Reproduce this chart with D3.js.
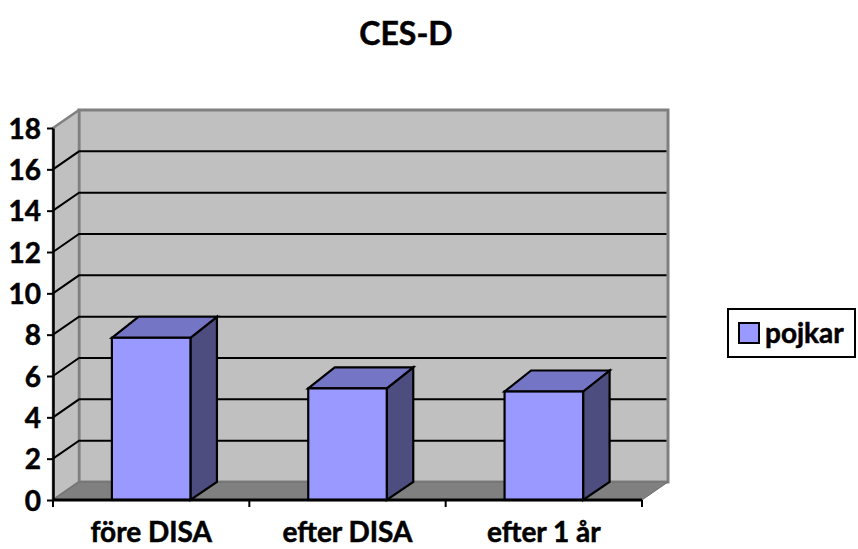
<!DOCTYPE html>
<html>
<head>
<meta charset="utf-8">
<script src="https://cdn.jsdelivr.net/npm/d3@7"></script>
<style>
  html, body { margin: 0; padding: 0; background: #fff; }
  svg { display: block; }
  text { font-family: Lato, "Open Sans", sans-serif; font-weight: bold; fill: #000;
         stroke: #000; stroke-width: 0.5px; }
</style>
</head>
<body>
<svg id="chart" width="858" height="549"></svg>
<script>
// Chart data
const categories = ["före DISA", "efter DISA", "efter 1 år"];
const seriesName = "pojkar";
const pojkar = [7.85, 5.4, 5.25];
const yTicks = [0, 2, 4, 6, 8, 10, 12, 14, 16, 18];
const chartTitle = "CES-D";

(function draw() {
  const svg = d3.select("#chart");

  // Plot frame: front plane plus a receding depth offset for the 3D walls
  const plotLeft = 53, plotRight = 642, plotBottom = 500, plotTop = 128;
  const depthX = 26, depthY = -18;

  const x = d3.scaleBand().domain(categories).range([plotLeft, plotRight])
    .paddingInner(0.6).paddingOuter(0.3);
  const y = d3.scaleLinear().domain([0, 18]).range([plotBottom, plotTop]);

  const wallFill = "#c0c0c0", wallEdge = "#808080", floorFill = "#808080";
  const line = d3.line();

  // Back wall
  svg.append("rect")
    .attr("x", plotLeft + depthX).attr("y", y(18) + depthY)
    .attr("width", plotRight - plotLeft).attr("height", y(0) - y(18))
    .attr("fill", wallFill).attr("stroke", wallEdge).attr("stroke-width", 3);

  // Side wall
  svg.append("path")
    .attr("d", line([[plotLeft, y(0)], [plotLeft + depthX, y(0) + depthY],
                     [plotLeft + depthX, y(18) + depthY], [plotLeft, y(18)]]) + "Z")
    .attr("fill", wallFill).attr("stroke", wallEdge).attr("stroke-width", 2.5)
    .attr("stroke-linejoin", "round");

  // Floor
  svg.append("path")
    .attr("d", line([[plotLeft, y(0)], [plotRight, y(0)],
                     [plotRight + depthX, y(0) + depthY], [plotLeft + depthX, y(0) + depthY]]) + "Z")
    .attr("fill", floorFill).attr("stroke", "#6e6e6e").attr("stroke-width", 1);

  // Gridlines across the side wall and back wall
  const grid = svg.append("g").attr("stroke", "#000").attr("stroke-width", 2).attr("fill", "none");
  yTicks.filter(t => t > 0 && t < 18).forEach(t => {
    grid.append("path").attr("d", line([
      [plotLeft, y(t)], [plotLeft + depthX, y(t) + depthY], [plotRight + depthX - 1.5, y(t) + depthY]
    ]));
  });

  // Bars (front, top and side faces)
  const barColors = { front: "#9999ff", top: "#7575c5", side: "#4d4d80" };
  const bars = svg.append("g").attr("stroke", "#000").attr("stroke-width", 2.2)
    .attr("stroke-linejoin", "miter");
  categories.forEach((c, i) => {
    const x0 = x(c), x1 = x(c) + x.bandwidth();
    const yt = y(pojkar[i]), yb = y(0);
    const bdx = depthX + 0.5, bdy = depthY - 3;
    const g = bars.append("g");
    g.append("path").attr("fill", barColors.side)
      .attr("d", line([[x1, yb], [x1, yt], [x1 + bdx, yt + bdy], [x1 + bdx, yb + depthY]]) + "Z");
    g.append("path").attr("fill", barColors.top)
      .attr("d", line([[x0, yt], [x0 + bdx, yt + bdy], [x1 + bdx, yt + bdy], [x1, yt]]) + "Z");
    g.append("rect").attr("fill", barColors.front)
      .attr("x", x0).attr("y", yt).attr("width", x1 - x0).attr("height", yb - yt);
  });

  // Value axis on the front plane
  const yAxis = svg.append("g").attr("transform", `translate(${plotLeft},0)`)
    .call(d3.axisLeft(y).tickValues(yTicks).tickSize(6).tickPadding(6).tickSizeOuter(0));
  yAxis.select(".domain").attr("stroke", "#000").attr("stroke-width", 2.5);
  yAxis.selectAll(".tick line").attr("stroke", "#000").attr("stroke-width", 2);
  yAxis.selectAll(".tick text").attr("font-size", 28).attr("font-family", null)
    .attr("fill", null).attr("dy", "0.36em");

  // Category axis on the front plane
  const xAxis = svg.append("g").attr("transform", `translate(0,${plotBottom})`);
  xAxis.append("path").attr("d", line([[plotLeft, 0], [plotRight, 0]]))
    .attr("stroke", "#000").attr("stroke-width", 3);
  const step = x.step();
  const bounds = d3.range(categories.length + 1).map(i => plotLeft + i * step);
  xAxis.selectAll("line.tk").data(bounds).join("line").attr("class", "tk")
    .attr("x1", d => d).attr("x2", d => d).attr("y1", 0).attr("y2", 7)
    .attr("stroke", "#000").attr("stroke-width", 2);
  xAxis.selectAll("text.cat").data(categories).join("text").attr("class", "cat")
    .attr("x", d => x(d) + x.bandwidth() / 2).attr("y", 42)
    .attr("text-anchor", "middle").attr("font-size", 28).text(d => d);

  // Title
  svg.append("text").attr("x", 406).attr("y", 45).attr("text-anchor", "middle")
    .attr("font-size", 32).text(chartTitle);

  // Legend
  const legend = svg.append("g");
  legend.append("rect").attr("x", 728).attr("y", 309).attr("width", 127).attr("height", 48)
    .attr("fill", "#fff").attr("stroke", "#000").attr("stroke-width", 2);
  legend.append("rect").attr("x", 739).attr("y", 323).attr("width", 20).attr("height", 20)
    .attr("fill", barColors.front).attr("stroke", "#000").attr("stroke-width", 2);
  legend.append("text").attr("x", 765).attr("y", 343).attr("font-size", 28).text(seriesName);
})();
</script>
</body>
</html>
